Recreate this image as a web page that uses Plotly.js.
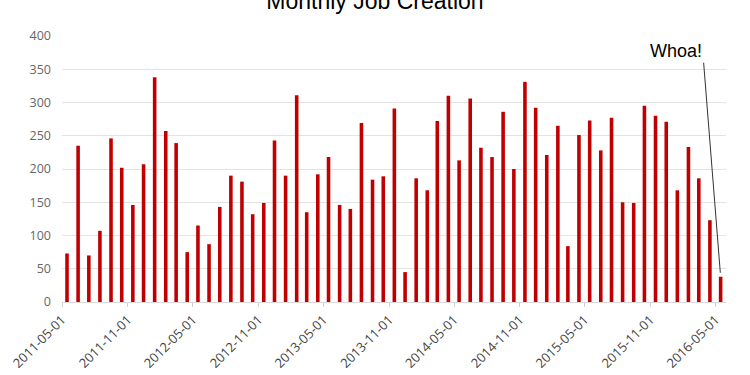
<!DOCTYPE html>
<html>
<head>
<meta charset="utf-8">
<script src="https://cdn.plot.ly/plotly-3.0.1.min.js"></script>
<style>html,body{margin:0;padding:0;background:#fff;}#chart{width:750px;height:375px;}</style>
</head>
<body>
<div id="chart"></div>
<script>
const months = [
  '2011-05-01','2011-06-01','2011-07-01','2011-08-01','2011-09-01','2011-10-01','2011-11-01','2011-12-01',
  '2012-01-01','2012-02-01','2012-03-01','2012-04-01','2012-05-01','2012-06-01','2012-07-01','2012-08-01',
  '2012-09-01','2012-10-01','2012-11-01','2012-12-01','2013-01-01','2013-02-01','2013-03-01','2013-04-01',
  '2013-05-01','2013-06-01','2013-07-01','2013-08-01','2013-09-01','2013-10-01','2013-11-01','2013-12-01',
  '2014-01-01','2014-02-01','2014-03-01','2014-04-01','2014-05-01','2014-06-01','2014-07-01','2014-08-01',
  '2014-09-01','2014-10-01','2014-11-01','2014-12-01','2015-01-01','2015-02-01','2015-03-01','2015-04-01',
  '2015-05-01','2015-06-01','2015-07-01','2015-08-01','2015-09-01','2015-10-01','2015-11-01','2015-12-01',
  '2016-01-01','2016-02-01','2016-03-01','2016-04-01','2016-05-01'
];
const jobs = [
  73, 235, 70, 107, 246, 202, 146, 207,
  338, 257, 239, 75, 115, 87, 143, 190,
  181, 132, 149, 243, 190, 311, 135, 192,
  218, 146, 140, 269, 184, 189, 291, 45,
  186, 168, 272, 310, 213, 306, 232, 218,
  286, 200, 331, 292, 221, 265, 84, 251,
  273, 228, 277, 150, 149, 295, 280, 271,
  168, 233, 186, 123, 38
];
const yTicks = [0, 50, 100, 150, 200, 250, 300, 350, 400];
const titleText = 'Monthly Job Creation';
const noteText = 'Whoa!';

const DAY = 86400000;
const trace = {
  type: 'bar',
  x: months,
  y: jobs,
  marker: {color: '#c00000'},
  offset: 9 * DAY,
  width: 10 * DAY,
  hoverinfo: 'x+y'
};

const layout = {
  width: 750, height: 375,
  margin: {l: 62, r: 24, t: 36, b: 73, pad: 0},
  paper_bgcolor: '#ffffff', plot_bgcolor: '#ffffff',
  showlegend: false,
  font: {family: '"Open Sans", sans-serif', color: '#666666', size: 12},
  title: {
    text: titleText,
    xref: 'container', x: 0.5, xanchor: 'center',
    yref: 'container', y: 0.998, yanchor: 'middle',
    font: {family: '"Liberation Sans", Arial, sans-serif', size: 23, color: '#000000'}
  },
  xaxis: {
    type: 'date',
    range: ['2011-05-01', '2016-05-30'],
    tick0: '2011-05-01', dtick: 'M6',
    tickformat: '%Y-%m-%d',
    tickangle: -45,
    ticks: 'outside', ticklen: 4, tickcolor: '#d0d0d0',
    showgrid: false,
    showline: true, linecolor: '#d9d9d9', linewidth: 1,
    zeroline: false,
    tickfont: {family: '"Open Sans", sans-serif', size: 13, color: '#444444'}
  },
  yaxis: {
    range: [0, 400],
    tickvals: yTicks,
    ticktext: yTicks.map(String),
    showgrid: true, gridcolor: '#e3e3e3', gridwidth: 1,
    zeroline: false, showline: false,
    ticks: '', ticklabelstandoff: 10,
    tickfont: {family: '"Open Sans", sans-serif', size: 12.5, color: '#666666'}
  },
  annotations: [{
    x: months[months.length - 1], y: jobs[jobs.length - 1],
    xref: 'x', yref: 'y',
    xshift: 5,
    text: noteText,
    showarrow: true, arrowhead: 0, arrowwidth: 1, arrowcolor: '#333333',
    ax: -17, ay: -214,
    xanchor: 'right', yanchor: 'bottom',
    standoff: 4,
    font: {family: '"Liberation Sans", Arial, sans-serif', size: 18, color: '#000000'}
  }]
};

Plotly.newPlot('chart', [trace], layout, {displayModeBar: false, staticPlot: true});
</script>
</body>
</html>
